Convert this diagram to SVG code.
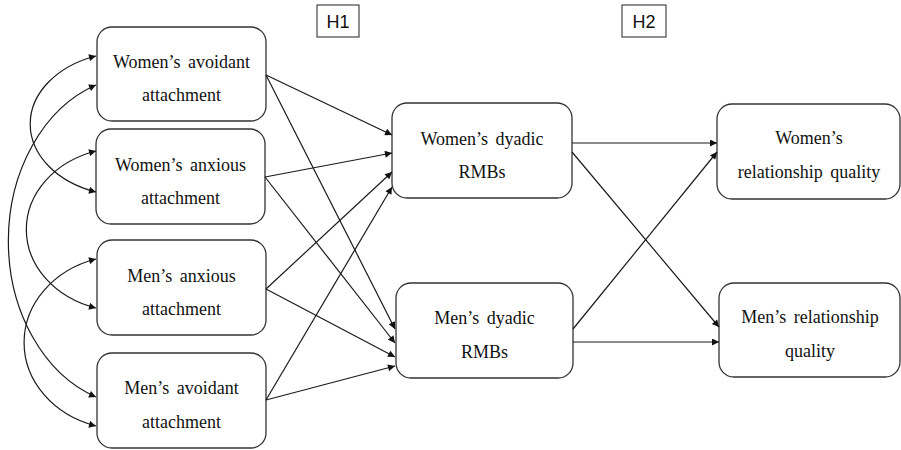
<svg xmlns="http://www.w3.org/2000/svg" width="901" height="450" viewBox="0 0 901 450">
<style>
.box{fill:#fff;stroke:#333;stroke-width:1.3}
.lbl{fill:#1a1a1a;stroke:#333;stroke-width:1.1}
.t{font-family:"Liberation Serif","Times New Roman",serif;font-size:18px;fill:#111;text-anchor:middle;word-spacing:3px}
.h{font-family:"Liberation Sans",Arial,sans-serif;font-size:18px;fill:#111;text-anchor:middle}
.c{fill:none;stroke:#1a1a1a;stroke-width:1.2}
</style>
<defs>
<marker id="ah" viewBox="0 0 10 10" refX="10" refY="5" markerWidth="9" markerHeight="7" markerUnits="userSpaceOnUse" orient="auto-start-reverse">
<path d="M0,0 L10,5 L0,10 z" fill="#111"/>
</marker>
</defs>
<rect width="901" height="450" fill="#fff"/>

<g id="h1"><rect x="317" y="5" width="42" height="32" fill="#fff" stroke="#333" stroke-width="1.1"/><text class="h" x="338" y="28">H1</text></g>
<g id="h2"><rect x="622" y="5" width="44" height="32" fill="#fff" stroke="#333" stroke-width="1.1"/><text class="h" x="644" y="28">H2</text></g>

<g id="w_avoid"><rect class="box" x="97" y="27" width="169" height="94" rx="15"/><text class="t" x="181.5" y="68">Women’s avoidant</text><text class="t" x="181.5" y="101">attachment</text></g>
<g id="w_anx"><rect class="box" x="96" y="129" width="169" height="95" rx="15"/><text class="t" x="180.5" y="171">Women’s anxious</text><text class="t" x="180.5" y="204">attachment</text></g>
<g id="m_anx"><rect class="box" x="97" y="240" width="169" height="95" rx="15"/><text class="t" x="181.5" y="282">Men’s anxious</text><text class="t" x="181.5" y="315">attachment</text></g>
<g id="m_avoid"><rect class="box" x="97" y="353" width="169" height="95" rx="15"/><text class="t" x="181.5" y="394">Men’s avoidant</text><text class="t" x="181.5" y="428">attachment</text></g>

<g id="w_rmb"><rect class="box" x="392" y="103" width="180" height="95" rx="15"/><text class="t" x="482" y="145">Women’s dyadic</text><text class="t" x="482" y="178">RMBs</text></g>
<g id="m_rmb"><rect class="box" x="396" y="283" width="177" height="95" rx="15"/><text class="t" x="484.5" y="324">Men’s dyadic</text><text class="t" x="484.5" y="358">RMBs</text></g>

<g id="w_rq"><rect class="box" x="717" y="104" width="183" height="95" rx="15"/><text class="t" x="809" y="144">Women’s</text><text class="t" x="809" y="178">relationship quality</text></g>
<g id="m_rq"><rect class="box" x="719" y="283" width="181" height="94" rx="15"/><text class="t" x="810" y="323">Men’s relationship</text><text class="t" x="810" y="357">quality</text></g>

<g id="connectors" class="c" marker-end="url(#ah)">
<line x1="266" y1="75" x2="392" y2="135"/>
<line x1="266" y1="75" x2="395" y2="329"/>
<line x1="265" y1="177" x2="392" y2="153"/>
<line x1="265" y1="177" x2="395" y2="343"/>
<line x1="266" y1="289" x2="392" y2="172"/>
<line x1="266" y1="289" x2="395" y2="357"/>
<line x1="266" y1="400" x2="392" y2="187"/>
<line x1="266" y1="400" x2="395" y2="366"/>
<line x1="572" y1="143" x2="717" y2="143"/>
<line x1="572" y1="152" x2="719" y2="327"/>
<line x1="573" y1="329" x2="717" y2="152"/>
<line x1="573" y1="342" x2="719" y2="342"/>
<path d="M96,56 A98,72 0 0 0 96,192" marker-start="url(#ah)"/>
<path d="M96,85 A130,165 0 0 0 96,397" marker-start="url(#ah)"/>
<path d="M96,151 A98,82 0 0 0 96,308" marker-start="url(#ah)"/>
<path d="M96,259 A100,87 0 0 0 96,426" marker-start="url(#ah)"/>
</g>
</svg>
